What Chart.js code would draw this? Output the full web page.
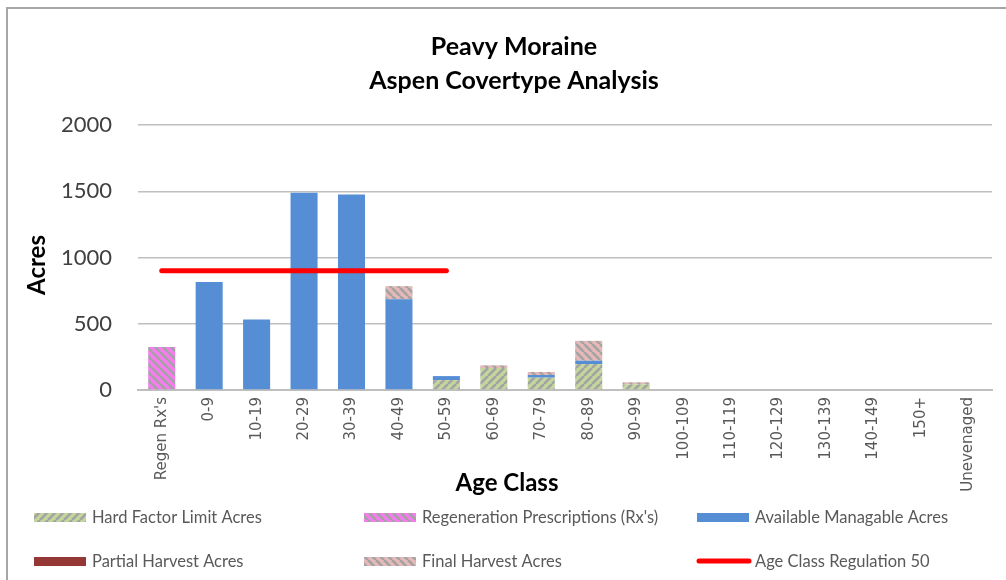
<!DOCTYPE html>
<html>
<head>
<meta charset="utf-8">
<script src="https://cdn.jsdelivr.net/npm/chart.js@4.4.1/dist/chart.umd.min.js"></script>
<style>
  html, body { margin: 0; padding: 0; background: #ffffff; }
  #wrap { position: relative; width: 1006px; height: 580px; overflow: hidden; background: #fff; }
  #frame { position: absolute; left: 6px; top: 7px; width: 1020px; height: 600px; border-left: 2px solid #a6a6a6; border-top: 2px solid #a6a6a6; box-sizing: border-box; }
  canvas { position: absolute; left: 0; top: 0; }
</style>
</head>
<body>
<div id="wrap">
  <div id="frame"></div>
  <canvas id="c" width="1006" height="580"></canvas>
</div>
<script>
const titleLines = ["Peavy Moraine", "Aspen Covertype Analysis"];
const yAxisTitle = "Acres";
const xAxisTitle = "Age Class";

const categories = ["Regen Rx's", "0-9", "10-19", "20-29", "30-39", "40-49", "50-59", "60-69", "70-79", "80-89", "90-99", "100-109", "110-119", "120-129", "130-139", "140-149", "150+", "Unevenaged"];

const hardFactorLimit = [0, 0, 0, 0, 0, 0, 75, 166, 93, 196, 43, 0, 0, 0, 0, 0, 0, 0];
const regenPrescriptions = [325, 0, 0, 0, 0, 0, 0, 0, 0, 0, 0, 0, 0, 0, 0, 0, 0, 0];
const availableManagable = [0, 815, 533, 1488, 1475, 684, 30, 0, 20, 25, 0, 0, 0, 0, 0, 0, 0, 0];
const partialHarvest = [0, 0, 0, 0, 0, 0, 0, 0, 0, 0, 0, 0, 0, 0, 0, 0, 0, 0];
const finalHarvest = [0, 0, 0, 0, 0, 100, 0, 20, 23, 150, 15, 0, 0, 0, 0, 0, 0, 0];
const ageClassRegulation = [900, 900, 900, 900, 900, 900, 900, null, null, null, null, null, null, null, null, null, null, null];

const yTicks = [0, 500, 1000, 1500, 2000];

const seriesNames = ["Hard Factor Limit Acres", "Regeneration Prescriptions (Rx's)", "Available Managable Acres", "Partial Harvest Acres", "Final Harvest Acres", "Age Class Regulation 50"];

function stripePattern(bg, stripe, dir) {
  const s = 8;
  const pc = document.createElement('canvas');
  pc.width = s; pc.height = s;
  const g = pc.getContext('2d');
  g.fillStyle = bg; g.fillRect(0, 0, s, s);
  g.strokeStyle = stripe; g.lineWidth = 2.6;
  for (let k = -1; k <= 1; k++) {
    g.beginPath();
    if (dir === 'up') { g.moveTo(k * s, s); g.lineTo(k * s + s, 0); }
    else { g.moveTo(k * s, 0); g.lineTo(k * s + s, s); }
    g.stroke();
  }
  return g.createPattern(pc, 'repeat');
}
const ctx0 = document.getElementById('c').getContext('2d');
const greenPat = stripePattern('#c3d69b', '#a3a3a3', 'up');
const magentaPat = stripePattern('#f77cf0', '#a3a3a3', 'down');
const pinkPat = stripePattern('#e6b9b8', '#a3a3a3', 'down');

const fills = [greenPat, magentaPat, '#558ed5', '#953735', pinkPat];

const legendPlugin = {
  id: 'customDecor',
  afterDraw(chart) {
    const ctx = chart.ctx;
    ctx.save();
    // Title
    ctx.fillStyle = '#000000';
    ctx.font = 'bold 25px Lato';
    ctx.textAlign = 'center';
    ctx.textBaseline = 'alphabetic';
    ctx.fillText(titleLines[0], 514, 55);
    ctx.fillText(titleLines[1], 514, 89);
    // Axis titles
    ctx.font = 'bold 24px Lato';
    ctx.fillText(xAxisTitle, 507, 491);
    ctx.save();
    ctx.translate(45, 265);
    ctx.rotate(-Math.PI / 2);
    ctx.fillText(yAxisTitle, 0, 0);
    ctx.restore();
    // Legend
    const cols = [34, 364, 697];
    const rows = [517, 561];
    ctx.font = '16.5px Lato';
    ctx.textAlign = 'left';
    ctx.textBaseline = 'middle';
    for (let i = 0; i < 6; i++) {
      const x = cols[i % 3];
      const y = rows[Math.floor(i / 3)];
      if (i < 5) {
        ctx.fillStyle = fills[i];
        ctx.fillRect(x, y - 4, 52, 9);
      } else {
        ctx.strokeStyle = '#ff0000';
        ctx.lineWidth = 5;
        ctx.lineCap = 'round';
        ctx.beginPath();
        ctx.moveTo(x + 2, y);
        ctx.lineTo(x + 52, y);
        ctx.stroke();
      }
      ctx.fillStyle = '#595959';
      ctx.fillText(seriesNames[i], x + 58, y + 1);
    }
    ctx.restore();
  }
};

const barDatasets = [hardFactorLimit, regenPrescriptions, availableManagable, partialHarvest, finalHarvest].map((d, i) => ({
  type: 'bar',
  label: seriesNames[i],
  data: d,
  backgroundColor: fills[i],
  borderWidth: 0,
  stack: 'bars',
  order: 1,
  barPercentage: 0.57,
  categoryPercentage: 1.0
}));

new Chart(ctx0, {
  data: {
    labels: categories,
    datasets: [
      {
        type: 'line',
        label: seriesNames[5],
        data: ageClassRegulation,
        borderColor: '#ff0000',
        borderWidth: 5,
        borderCapStyle: 'round',
        pointRadius: 0,
        fill: false,
        spanGaps: false,
        stack: 'line',
        order: 0
      },
      ...barDatasets
    ]
  },
  options: {
    responsive: false,
    animation: false,
    events: [],
    layout: { padding: { left: 0, right: 14, top: 125, bottom: 0 } },
    plugins: {
      legend: { display: false },
      title: { display: false },
      tooltip: { enabled: false }
    },
    scales: {
      x: {
        stacked: true,
        grid: { display: false, drawTicks: false },
        border: { display: true, color: '#bfbfbf', width: 2 },
        ticks: {
          autoSkip: false,
          minRotation: 90,
          maxRotation: 90,
          padding: 7,
          color: '#595959',
          font: { family: 'DejaVu Sans', size: 15 }
        },
        afterFit(scale) { scale.height = 190; }
      },
      y: {
        stacked: true,
        min: 0,
        max: 2000,
        afterBuildTicks(scale) { scale.ticks = yTicks.map(v => ({ value: v })); },
        grid: { color: '#bfbfbf', lineWidth: 1.5, drawTicks: false },
        border: { display: false },
        ticks: {
          padding: 26,
          color: '#404040',
          font: { family: 'Lato', size: 22 },
          callback: (v) => String(v)
        },
        afterFit(scale) { scale.width = 138; }
      }
    }
  },
  plugins: [legendPlugin]
});
</script>
</body>
</html>
